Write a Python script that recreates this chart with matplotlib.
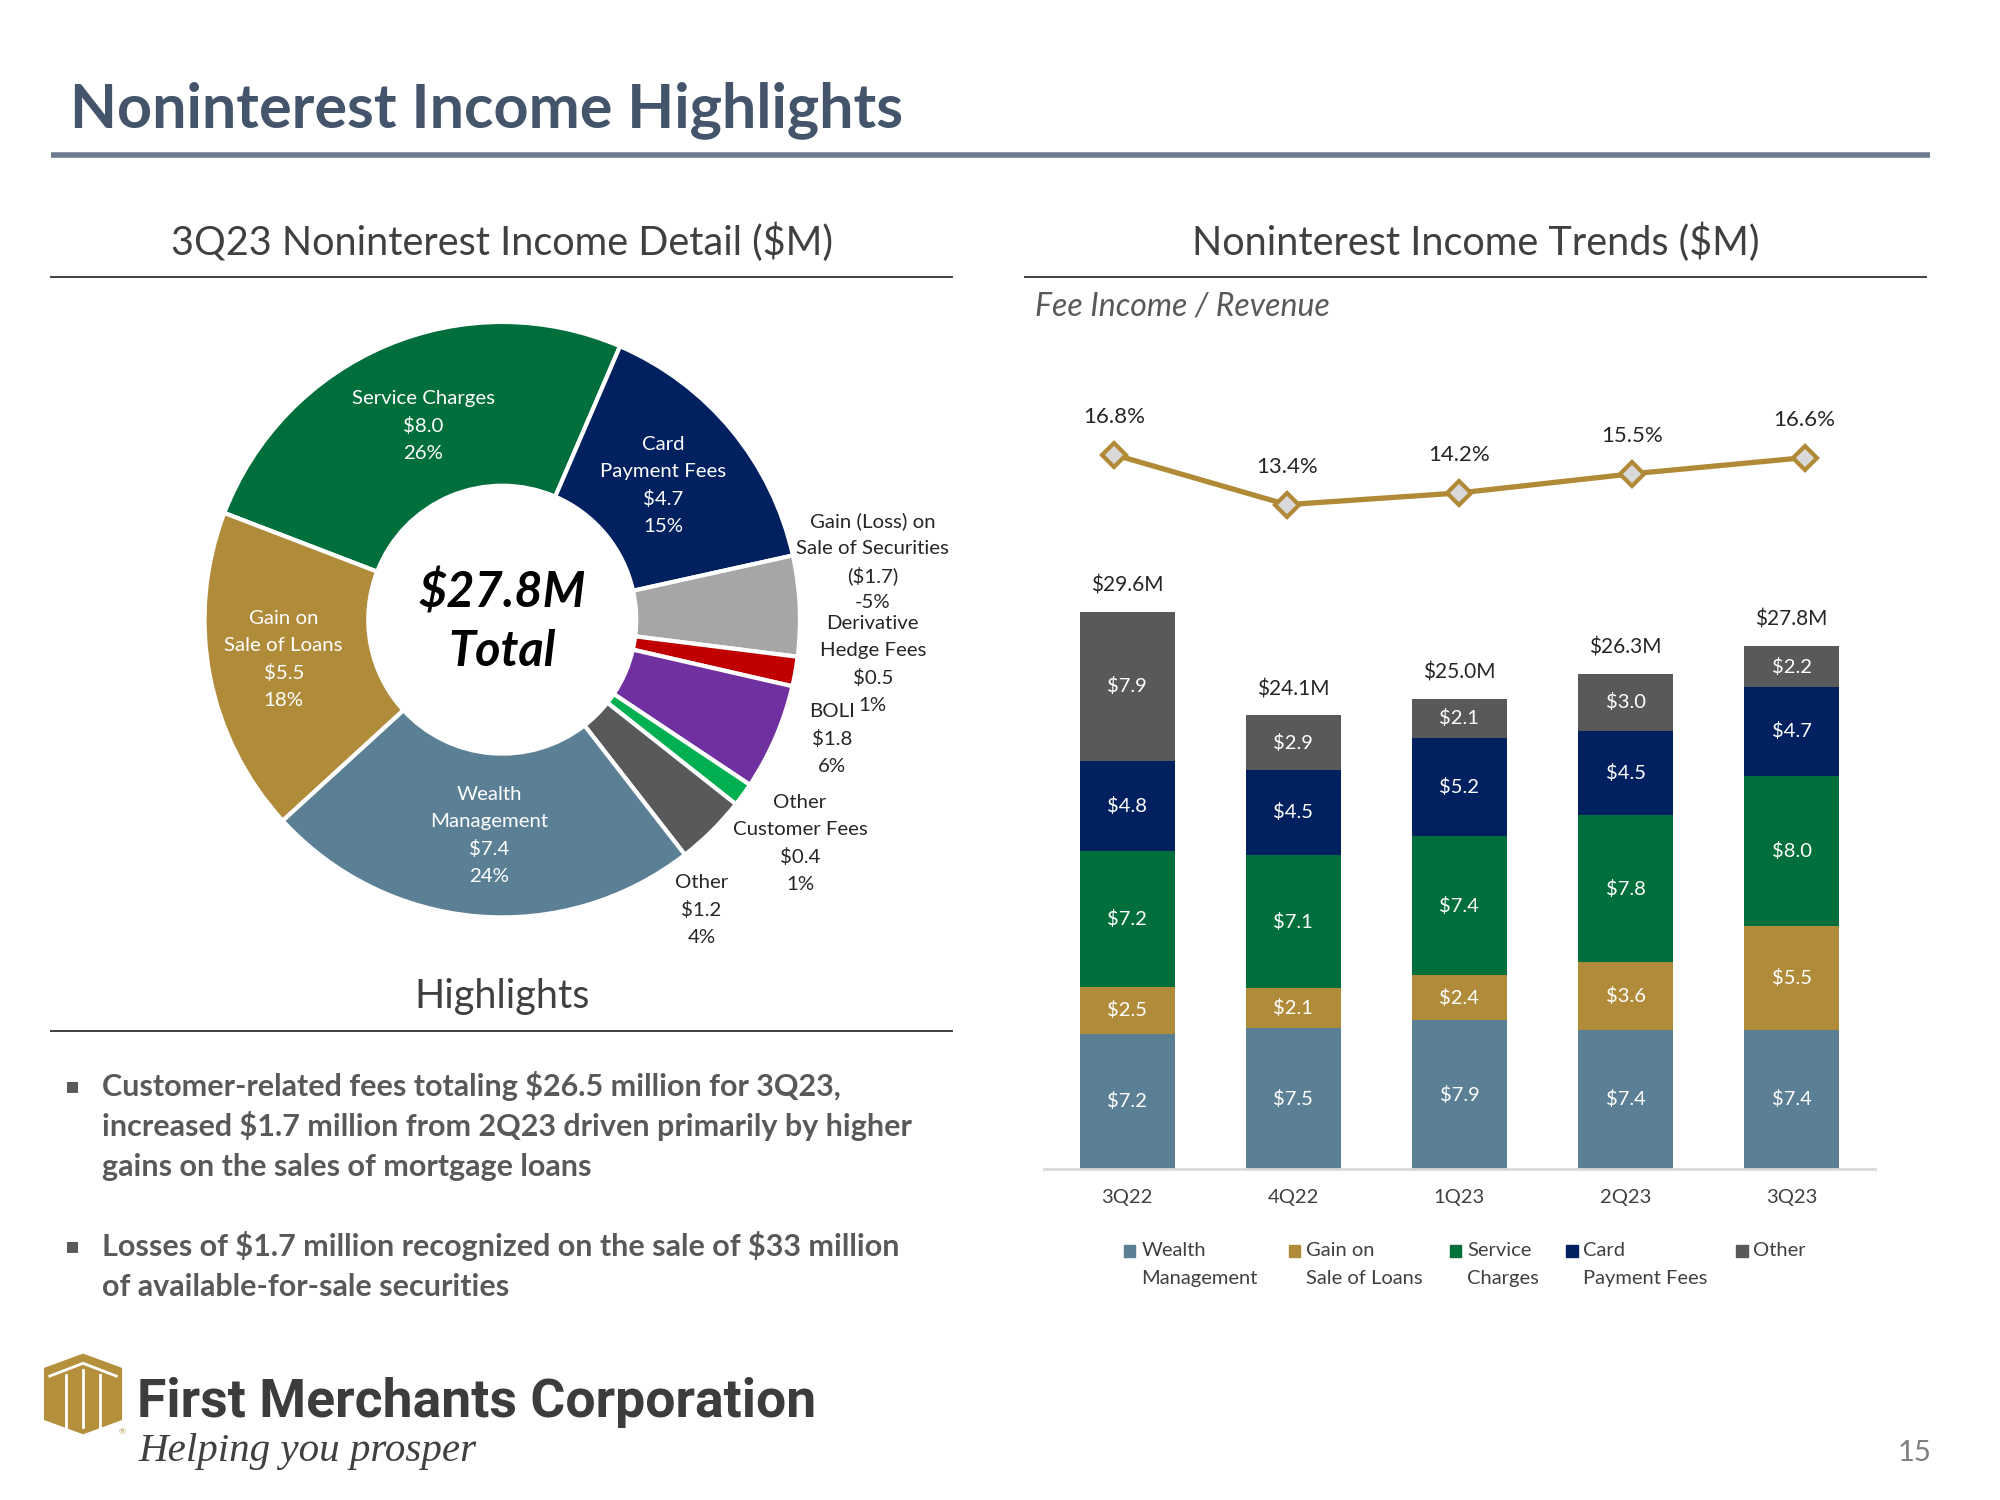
import matplotlib
matplotlib.use("Agg")
import matplotlib.pyplot as plt
from matplotlib.patches import Polygon, Rectangle
import numpy as np

# ---- data -------------------------------------------------------------
pie_labels = ["Service Charges", "Card\nPayment Fees", "Gain (Loss) on\nSale of Securities",
              "Derivative\nHedge Fees", "BOLI", "Other\nCustomer Fees", "Other",
              "Wealth\nManagement", "Gain on\nSale of Loans"]
pie_values = [8.0, 4.7, -1.7, 0.5, 1.8, 0.4, 1.2, 7.4, 5.5]
pie_pcts = ["26%", "15%", "-5%", "1%", "6%", "1%", "4%", "24%", "18%"]
pie_total = 27.8

quarters = ["3Q22", "4Q22", "1Q23", "2Q23", "3Q23"]
wealth = [7.2, 7.5, 7.9, 7.4, 7.4]
gain_loans = [2.5, 2.1, 2.4, 3.6, 5.5]
service = [7.2, 7.1, 7.4, 7.8, 8.0]
card = [4.8, 4.5, 5.2, 4.5, 4.7]
other = [7.9, 2.9, 2.1, 3.0, 2.2]
fee_ratio = [16.8, 13.4, 14.2, 15.5, 16.6]

series_names = ["Wealth\nManagement", "Gain on\nSale of Loans", "Service\nCharges",
                "Card\nPayment Fees", "Other"]

bullets = [
    ["Customer-related fees totaling $26.5 million for 3Q23,",
     "increased $1.7 million from 2Q23 driven primarily by higher",
     "gains on the sales of mortgage loans"],
    ["Losses of $1.7 million recognized on the sale of $33 million",
     "of available-for-sale securities"],
]

# ---- styling ----------------------------------------------------------
FONT = ["Lato", "DejaVu Sans"]
plt.rcParams["font.family"] = FONT

C_WEALTH = "#5B7F95"
C_GAIN = "#AF8B3A"
C_SERVICE = "#006F3B"
C_CARD = "#00205F"
C_OTHER = "#58595B"
pie_colors = [C_SERVICE, C_CARD, "#A6A6A6", "#C00000", "#7030A0", "#00B050",
              C_OTHER, C_WEALTH, C_GAIN]
bar_colors = [C_WEALTH, C_GAIN, C_SERVICE, C_CARD, C_OTHER]

W, H = 1565, 1174  # layout grid


def rect(x0, y0, x1, y1):
    return [x0 / W, 1 - y1 / H, (x1 - x0) / W, (y1 - y0) / H]


def fmt_money(v):
    return f"(${abs(v):.1f})" if v < 0 else f"${v:.1f}"


fig = plt.figure(figsize=(20, 15), dpi=100)
fig.patch.set_facecolor("white")

# ---- donut --------------------------------------------------------------
axp = fig.add_axes(rect(160, 252, 626, 718))
axp.pie(np.abs(pie_values), colors=pie_colors, startangle=159, counterclock=False,
        wedgeprops=dict(width=0.55, edgecolor="white", linewidth=3))
axp.set_xlim(-1, 1)
axp.set_ylim(-1, 1)
axp.axis("off")

# ---- stacked bars ------------------------------------------------------
axb = fig.add_axes(rect(817, 300, 1467, 915))
x = np.arange(len(quarters))
stack = [wealth, gain_loans, service, card, other]
bottom = np.zeros(len(quarters))
for vals, col in zip(stack, bar_colors):
    vals = np.array(vals)
    axb.bar(x, vals, bottom=bottom, width=0.57, color=col, zorder=2)
    for xi, b, v in zip(x, bottom, vals):
        axb.text(xi, b + v / 2, f"${v:.1f}", ha="center", va="center",
                 color="white", fontsize=14.5, parse_math=False)
    bottom += vals
for xi, tot in zip(x, bottom):
    axb.annotate(f"${tot:.1f}M", (xi, tot), xytext=(0, 19), textcoords="offset points",
                 ha="center", va="center", fontsize=15, color="#262626", parse_math=False)
axb.set_xlim(-0.5, 4.5)
axb.set_ylim(0, 41.75)
axb.set_xticks(x, quarters)
axb.tick_params(length=0, pad=14, labelsize=14.5, labelcolor="#404040")
axb.set_yticks([])
for s in ["top", "right", "left"]:
    axb.spines[s].set_visible(False)
axb.spines["bottom"].set_color("#D9D9D9")
axb.spines["bottom"].set_linewidth(2)
axb.patch.set_alpha(0)

# fee income / revenue line (own x scale like the original overlay chart)
axl = fig.add_axes(rect(817, 300, 1467, 915))
axl.plot(np.arange(len(fee_ratio)), fee_ratio, color="#B08A37", lw=3.8,
         marker="D", ms=12, mfc="#D9D9D9", mec="#B08A37", mew=3)
for i, v in enumerate(fee_ratio):
    axl.annotate(f"{v:.1f}%", (i, v), xytext=(0, 27), textcoords="offset points",
                 ha="center", va="center", fontsize=16, color="#262626")
axl.set_xlim(-0.407, 4.407)
axl.set_ylim(-31.82, 21.66)
axl.axis("off")

# ---- canvas for slide texts ----------------------------------------------
ax0 = fig.add_axes([0, 0, 1, 1])
ax0.set_xlim(0, W)
ax0.set_ylim(H, 0)
ax0.axis("off")
ax0.patch.set_alpha(0)


def txt(x, y, s, **kw):
    kw.setdefault("ha", "center")
    kw.setdefault("va", "center")
    return ax0.text(x, y, s, parse_math=False, **kw)


txt(55, 86, "Noninterest Income Highlights", fontsize=44, fontweight="bold",
    color="#44546A", ha="left")
ax0.plot([40, 1510], [121, 121], color="#6B7B8D", lw=4, solid_capstyle="butt")

txt(393, 190, "3Q23 Noninterest Income Detail ($M)", fontsize=28.5, color="#404040")
ax0.plot([40, 745], [217, 217], color="#404040", lw=1.4)
txt(1155, 190, "Noninterest Income Trends ($M)", fontsize=28.5, color="#404040")
ax0.plot([802, 1507], [217, 217], color="#404040", lw=1.4)
txt(810, 240, "Fee Income / Revenue", fontsize=23, style="italic",
    color="#595959", ha="left")

txt(393, 780, "Highlights", fontsize=28.5, color="#404040")
ax0.plot([40, 745], [807, 807], color="#404040", lw=1.4)

# donut labels
pie_label_xy = [(331, 312), (519, 348), (683, 408), (683, 488), (651, 557),
                (626, 628), (549, 691), (383, 622), (222, 484)]
inside = [True, True, False, False, False, False, False, True, True]
for lab, v, p, (lx, ly), ins in zip(pie_labels, pie_values, pie_pcts, pie_label_xy, inside):
    rows = lab.split("\n") + [fmt_money(v), p]
    for k, r in enumerate(rows):
        txt(lx, ly + 21.3 * k, r, fontsize=14.7, color="white" if ins else "#262626")

txt(393, 463, f"${pie_total:.1f}M", fontsize=35, fontweight="bold",
    style="italic", color="black")
txt(393, 510, "Total", fontsize=35, fontweight="bold", style="italic", color="black")

# bullets
y = 850
for para in bullets:
    txt(57, y, "\u25aa", fontsize=16, color="#595959", family=["DejaVu Sans"])
    for line in para:
        txt(80, y, line, fontsize=22, fontweight="bold", color="#595959", ha="left")
        y += 31.5
    y += 31

# legend
legend_x = [884, 1013, 1139, 1230, 1363]
for lx, name, col in zip(legend_x, series_names, bar_colors):
    ax0.add_patch(Rectangle((lx - 4.5, 974.5), 9, 9, color=col))
    for k, r in enumerate(name.split("\n")):
        txt(lx + 9, 979 + 21.5 * k, r, fontsize=14.5, color="#404040", ha="left")

# logo
gold = "#B48F3C"
ax0.add_patch(Polygon([(35, 1071), (65, 1060), (95, 1071), (95, 1111), (65, 1122), (35, 1111)],
                      closed=True, color=gold))
ax0.plot([39, 65, 91], [1077, 1067, 1077], color="white", lw=2)
for vx in (52, 65, 78):
    ax0.plot([vx, vx], [1072 if vx == 65 else 1076, 1117], color="white", lw=2)
txt(93, 1121, "\u00ae", fontsize=6, color=gold, ha="left")
txt(107, 1098, "First Merchants Corporation", fontsize=38.5, fontweight="bold",
    color="#3C3C3C", family=["Roboto", "DejaVu Sans"], ha="left")
txt(108, 1136, "Helping you prosper", fontsize=29.5, style="italic",
    color="#404040", family=["Liberation Serif", "DejaVu Serif"], ha="left")
txt(1498, 1137, "15", fontsize=21, color="#7F7F7F")

fig.savefig("out.png", dpi=100)
